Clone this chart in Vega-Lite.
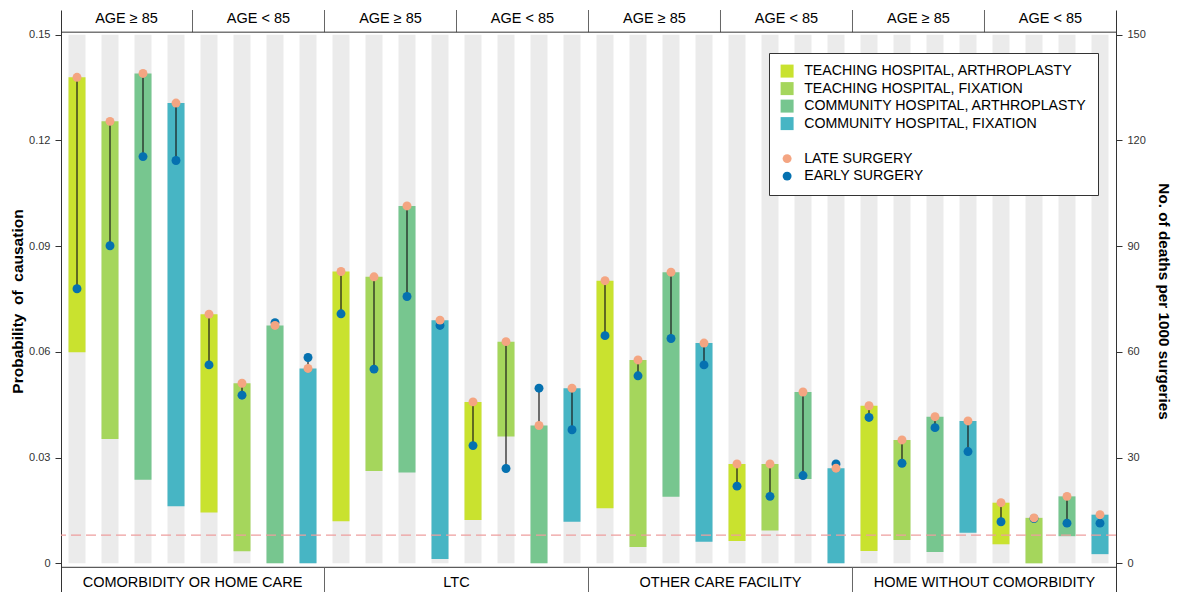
{
  "$schema": "https://vega.github.io/schema/vega-lite/v6.json",
  "width": 1055,
  "height": 582,
  "autosize": {"type": "none"},
  "padding": {"left": 61, "top": 10, "right": 62, "bottom": 0},
  "background": "white",
  "config": {
    "view": {"stroke": null},
    "font": "Liberation Sans",
    "scale": {"continuousPadding": 0},
    "axis": {"grid": false, "domainColor": "#333333", "tickColor": "#333333", "labelColor": "#333333", "labelFontSize": 11, "labelFont": "Liberation Sans", "titleFont": "Liberation Sans", "titleColor": "#000000", "titleFontWeight": "bold"}
  },
  "datasets": {
    "rows": [
      {"pos": 1, "grp": "COMORBIDITY OR HOME CARE", "age": "AGE \u2265 85", "cat": "TEACHING HOSPITAL, ARTHROPLASTY", "lo": 0.0599, "late": 0.1379, "early": 0.0779},
      {"pos": 2, "grp": "COMORBIDITY OR HOME CARE", "age": "AGE \u2265 85", "cat": "TEACHING HOSPITAL, FIXATION", "lo": 0.0353, "late": 0.1254, "early": 0.0901},
      {"pos": 3, "grp": "COMORBIDITY OR HOME CARE", "age": "AGE \u2265 85", "cat": "COMMUNITY HOSPITAL, ARTHROPLASTY", "lo": 0.0237, "late": 0.1390, "early": 0.1154},
      {"pos": 4, "grp": "COMORBIDITY OR HOME CARE", "age": "AGE \u2265 85", "cat": "COMMUNITY HOSPITAL, FIXATION", "lo": 0.0162, "late": 0.1306, "early": 0.1143},
      {"pos": 5, "grp": "COMORBIDITY OR HOME CARE", "age": "AGE < 85", "cat": "TEACHING HOSPITAL, ARTHROPLASTY", "lo": 0.0144, "late": 0.0707, "early": 0.0563},
      {"pos": 6, "grp": "COMORBIDITY OR HOME CARE", "age": "AGE < 85", "cat": "TEACHING HOSPITAL, FIXATION", "lo": 0.0034, "late": 0.0511, "early": 0.0477},
      {"pos": 7, "grp": "COMORBIDITY OR HOME CARE", "age": "AGE < 85", "cat": "COMMUNITY HOSPITAL, ARTHROPLASTY", "lo": 0.0, "late": 0.0675, "early": 0.0683},
      {"pos": 8, "grp": "COMORBIDITY OR HOME CARE", "age": "AGE < 85", "cat": "COMMUNITY HOSPITAL, FIXATION", "lo": 0.0, "late": 0.0553, "early": 0.0584},
      {"pos": 9, "grp": "LTC", "age": "AGE \u2265 85", "cat": "TEACHING HOSPITAL, ARTHROPLASTY", "lo": 0.0119, "late": 0.0828, "early": 0.0708},
      {"pos": 10, "grp": "LTC", "age": "AGE \u2265 85", "cat": "TEACHING HOSPITAL, FIXATION", "lo": 0.0262, "late": 0.0813, "early": 0.0551},
      {"pos": 11, "grp": "LTC", "age": "AGE \u2265 85", "cat": "COMMUNITY HOSPITAL, ARTHROPLASTY", "lo": 0.0258, "late": 0.1014, "early": 0.0757},
      {"pos": 12, "grp": "LTC", "age": "AGE \u2265 85", "cat": "COMMUNITY HOSPITAL, FIXATION", "lo": 0.0012, "late": 0.0690, "early": 0.0675},
      {"pos": 13, "grp": "LTC", "age": "AGE < 85", "cat": "TEACHING HOSPITAL, ARTHROPLASTY", "lo": 0.0123, "late": 0.0458, "early": 0.0334},
      {"pos": 14, "grp": "LTC", "age": "AGE < 85", "cat": "TEACHING HOSPITAL, FIXATION", "lo": 0.0360, "late": 0.0629, "early": 0.0269},
      {"pos": 15, "grp": "LTC", "age": "AGE < 85", "cat": "COMMUNITY HOSPITAL, ARTHROPLASTY", "lo": 0.0, "late": 0.0391, "early": 0.0497},
      {"pos": 16, "grp": "LTC", "age": "AGE < 85", "cat": "COMMUNITY HOSPITAL, FIXATION", "lo": 0.0118, "late": 0.0497, "early": 0.0379},
      {"pos": 17, "grp": "OTHER CARE FACILITY", "age": "AGE \u2265 85", "cat": "TEACHING HOSPITAL, ARTHROPLASTY", "lo": 0.0156, "late": 0.0802, "early": 0.0646},
      {"pos": 18, "grp": "OTHER CARE FACILITY", "age": "AGE \u2265 85", "cat": "TEACHING HOSPITAL, FIXATION", "lo": 0.0046, "late": 0.0577, "early": 0.0532},
      {"pos": 19, "grp": "OTHER CARE FACILITY", "age": "AGE \u2265 85", "cat": "COMMUNITY HOSPITAL, ARTHROPLASTY", "lo": 0.0189, "late": 0.0826, "early": 0.0638},
      {"pos": 20, "grp": "OTHER CARE FACILITY", "age": "AGE \u2265 85", "cat": "COMMUNITY HOSPITAL, FIXATION", "lo": 0.0061, "late": 0.0625, "early": 0.0563},
      {"pos": 21, "grp": "OTHER CARE FACILITY", "age": "AGE < 85", "cat": "TEACHING HOSPITAL, ARTHROPLASTY", "lo": 0.0063, "late": 0.0282, "early": 0.0219},
      {"pos": 22, "grp": "OTHER CARE FACILITY", "age": "AGE < 85", "cat": "TEACHING HOSPITAL, FIXATION", "lo": 0.0093, "late": 0.0282, "early": 0.0190},
      {"pos": 23, "grp": "OTHER CARE FACILITY", "age": "AGE < 85", "cat": "COMMUNITY HOSPITAL, ARTHROPLASTY", "lo": 0.0239, "late": 0.0486, "early": 0.0249},
      {"pos": 24, "grp": "OTHER CARE FACILITY", "age": "AGE < 85", "cat": "COMMUNITY HOSPITAL, FIXATION", "lo": 0.0, "late": 0.0270, "early": 0.0282},
      {"pos": 25, "grp": "HOME WITHOUT COMORBIDITY", "age": "AGE \u2265 85", "cat": "TEACHING HOSPITAL, ARTHROPLASTY", "lo": 0.0035, "late": 0.0447, "early": 0.0414},
      {"pos": 26, "grp": "HOME WITHOUT COMORBIDITY", "age": "AGE \u2265 85", "cat": "TEACHING HOSPITAL, FIXATION", "lo": 0.0066, "late": 0.0350, "early": 0.0284},
      {"pos": 27, "grp": "HOME WITHOUT COMORBIDITY", "age": "AGE \u2265 85", "cat": "COMMUNITY HOSPITAL, ARTHROPLASTY", "lo": 0.0032, "late": 0.0416, "early": 0.0385},
      {"pos": 28, "grp": "HOME WITHOUT COMORBIDITY", "age": "AGE \u2265 85", "cat": "COMMUNITY HOSPITAL, FIXATION", "lo": 0.0087, "late": 0.0404, "early": 0.0317},
      {"pos": 29, "grp": "HOME WITHOUT COMORBIDITY", "age": "AGE < 85", "cat": "TEACHING HOSPITAL, ARTHROPLASTY", "lo": 0.0054, "late": 0.0172, "early": 0.0118},
      {"pos": 30, "grp": "HOME WITHOUT COMORBIDITY", "age": "AGE < 85", "cat": "TEACHING HOSPITAL, FIXATION", "lo": 0.0, "late": 0.0129, "early": 0.0127},
      {"pos": 31, "grp": "HOME WITHOUT COMORBIDITY", "age": "AGE < 85", "cat": "COMMUNITY HOSPITAL, ARTHROPLASTY", "lo": 0.0077, "late": 0.0190, "early": 0.0114},
      {"pos": 32, "grp": "HOME WITHOUT COMORBIDITY", "age": "AGE < 85", "cat": "COMMUNITY HOSPITAL, FIXATION", "lo": 0.0026, "late": 0.0138, "early": 0.0114}
    ],
    "ref": [{"threshold": 0.008}]
  },
  "data": {"name": "rows"},
  "resolve": {"axis": {"y": "independent"}},
  "layer": [
    {
      "mark": {"type": "bar", "color": "#EBEBEB", "size": 17},
      "encoding": {
        "x": {"field": "pos", "type": "quantitative", "scale": {"domain": [0.515, 32.485], "nice": false, "zero": false, "padding": 0}, "axis": null},
        "y": {"datum": 0, "type": "quantitative", "scale": {"domain": [-0.00814, 0.157], "nice": false, "zero": false},
          "axis": {"orient": "left", "values": [0, 0.03, 0.06, 0.09, 0.12, 0.15], "format": "~g", "title": "Probability\u00a0 of\u00a0 causation", "titleFontSize": 15.5, "titlePadding": 3, "tickSize": 6, "labelPadding": 5}},
        "y2": {"datum": 0.15}
      }
    },
    {
      "mark": {"type": "bar", "size": 17},
      "encoding": {
        "x": {"field": "pos", "type": "quantitative", "scale": {"domain": [0.515, 32.485], "nice": false, "zero": false, "padding": 0}, "axis": null},
        "y": {"field": "lo", "type": "quantitative", "scale": {"domain": [-0.00814, 0.157], "nice": false, "zero": false}, "axis": null},
        "y2": {"field": "late"},
        "fill": {
          "field": "cat", "type": "nominal",
          "scale": {
            "domain": ["TEACHING HOSPITAL, ARTHROPLASTY", "TEACHING HOSPITAL, FIXATION", "COMMUNITY HOSPITAL, ARTHROPLASTY", "COMMUNITY HOSPITAL, FIXATION", " ", "LATE SURGERY", "EARLY SURGERY"],
            "range": ["#C9E22F", "#A5D65C", "#77C68F", "#47B5C4", "rgba(0,0,0,0)", "#F4A582", "#0571B0"]
          },
          "legend": {
            "orient": "none", "legendX": 708, "legendY": 43, "title": null,
            "strokeColor": "#333333", "fillColor": "white", "padding": 11,
            "labelFontSize": 14.2, "labelFont": "Liberation Sans", "labelColor": "#000000", "labelLimit": 500,
            "symbolType": "square", "symbolSize": 169, "symbolStrokeWidth": 0, "symbolOpacity": 1,
            "labelOffset": 10, "rowPadding": 2.5,
            "encode": {"symbols": {"update": {
              "shape": {"signal": "(datum.value == 'LATE SURGERY' || datum.value == 'EARLY SURGERY') ? 'circle' : 'square'"},
              "size": {"signal": "(datum.value == 'LATE SURGERY' || datum.value == 'EARLY SURGERY') ? 80 : 169"}
            }}}
          }
        }
      }
    },
    {
      "data": {"name": "ref"},
      "mark": {"type": "rule", "color": "#EE9E9E", "strokeDash": [10, 5], "strokeWidth": 1.2},
      "encoding": {
        "y": {"field": "threshold", "type": "quantitative", "scale": {"domain": [-0.00814, 0.157], "nice": false, "zero": false}, "axis": null}
      }
    },
    {
      "mark": {"type": "rule", "color": "#1A1A1A", "strokeWidth": 1.2},
      "encoding": {
        "x": {"field": "pos", "type": "quantitative", "scale": {"domain": [0.515, 32.485], "nice": false, "zero": false, "padding": 0}, "axis": null},
        "y": {"field": "early", "type": "quantitative", "scale": {"domain": [-0.00814, 0.157], "nice": false, "zero": false}, "axis": null},
        "y2": {"field": "late"}
      }
    },
    {
      "mark": {"type": "point", "filled": true, "size": 80, "opacity": 1, "strokeWidth": 0},
      "encoding": {
        "x": {"field": "pos", "type": "quantitative", "scale": {"domain": [0.515, 32.485], "nice": false, "zero": false, "padding": 0}, "axis": null},
        "y": {"field": "early", "type": "quantitative", "scale": {"domain": [-0.00814, 0.157], "nice": false, "zero": false}, "axis": null},
        "fill": {"datum": "EARLY SURGERY"}
      }
    },
    {
      "mark": {"type": "point", "filled": true, "size": 80, "opacity": 1, "strokeWidth": 0},
      "encoding": {
        "x": {"field": "pos", "type": "quantitative", "scale": {"domain": [0.515, 32.485], "nice": false, "zero": false, "padding": 0}, "axis": null},
        "y": {"field": "late", "type": "quantitative", "scale": {"domain": [-0.00814, 0.157], "nice": false, "zero": false},
          "axis": {"orient": "right", "values": [0, 0.03, 0.06, 0.09, 0.12, 0.15], "labelExpr": "round(datum.value * 1000)", "title": "No. of deaths per 1000 surgeries", "titleFontSize": 15.3, "titlePadding": 10, "tickSize": 6, "labelPadding": 5}},
        "fill": {"datum": "LATE SURGERY"}
      }
    },
    {
      "transform": [
        {"aggregate": [{"op": "min", "field": "pos", "as": "p0"}, {"op": "max", "field": "pos", "as": "p1"}], "groupby": ["grp", "age"]},
        {"calculate": "(datum.p0 + datum.p1) / 2", "as": "mid"}
      ],
      "mark": {"type": "text", "fontSize": 14.5, "baseline": "alphabetic", "color": "#000000"},
      "encoding": {
        "x": {"field": "mid", "type": "quantitative", "scale": {"domain": [0.515, 32.485], "nice": false, "zero": false, "padding": 0}, "axis": null},
        "y": {"datum": 0.15323, "type": "quantitative", "scale": {"domain": [-0.00814, 0.157], "nice": false, "zero": false}, "axis": null},
        "text": {"field": "age"}
      }
    },
    {
      "transform": [
        {"aggregate": [{"op": "min", "field": "pos", "as": "p0"}], "groupby": ["grp", "age"]},
        {"filter": "datum.p0 > 1"},
        {"calculate": "datum.p0 - 0.5", "as": "edge"}
      ],
      "mark": {"type": "rule", "color": "#666666", "strokeWidth": 1},
      "encoding": {
        "x": {"field": "edge", "type": "quantitative", "scale": {"domain": [0.515, 32.485], "nice": false, "zero": false, "padding": 0}, "axis": null},
        "y": {"datum": 0.15071, "type": "quantitative", "scale": {"domain": [-0.00814, 0.157], "nice": false, "zero": false}, "axis": null},
        "y2": {"datum": 0.157}
      }
    },
    {
      "transform": [{"aggregate": [{"op": "count", "as": "n"}]}],
      "mark": {"type": "rule", "color": "#333333", "strokeWidth": 1},
      "encoding": {
        "y": {"datum": 0.15071, "type": "quantitative", "scale": {"domain": [-0.00814, 0.157], "nice": false, "zero": false}, "axis": null}
      }
    },
    {
      "transform": [{"aggregate": [{"op": "count", "as": "n"}]}],
      "mark": {"type": "rule", "color": "#333333", "strokeWidth": 1},
      "encoding": {
        "y": {"datum": -0.001135, "type": "quantitative", "scale": {"domain": [-0.00814, 0.157], "nice": false, "zero": false}, "axis": null}
      }
    },
    {
      "transform": [
        {"aggregate": [{"op": "min", "field": "pos", "as": "p0"}, {"op": "max", "field": "pos", "as": "p1"}], "groupby": ["grp"]},
        {"calculate": "(datum.p0 + datum.p1) / 2", "as": "mid"}
      ],
      "mark": {"type": "text", "fontSize": 14.5, "baseline": "alphabetic", "color": "#000000"},
      "encoding": {
        "x": {"field": "mid", "type": "quantitative", "scale": {"domain": [0.515, 32.485], "nice": false, "zero": false, "padding": 0}, "axis": null},
        "y": {"datum": -0.00681, "type": "quantitative", "scale": {"domain": [-0.00814, 0.157], "nice": false, "zero": false}, "axis": null},
        "text": {"field": "grp"}
      }
    },
    {
      "transform": [
        {"aggregate": [{"op": "min", "field": "pos", "as": "p0"}], "groupby": ["grp"]},
        {"filter": "datum.p0 > 1"},
        {"calculate": "datum.p0 - 0.5", "as": "edge"}
      ],
      "mark": {"type": "rule", "color": "#666666", "strokeWidth": 1},
      "encoding": {
        "x": {"field": "edge", "type": "quantitative", "scale": {"domain": [0.515, 32.485], "nice": false, "zero": false, "padding": 0}, "axis": null},
        "y": {"datum": -0.001135, "type": "quantitative", "scale": {"domain": [-0.00814, 0.157], "nice": false, "zero": false}, "axis": null},
        "y2": {"datum": -0.00814}
      }
    }
  ]
}
